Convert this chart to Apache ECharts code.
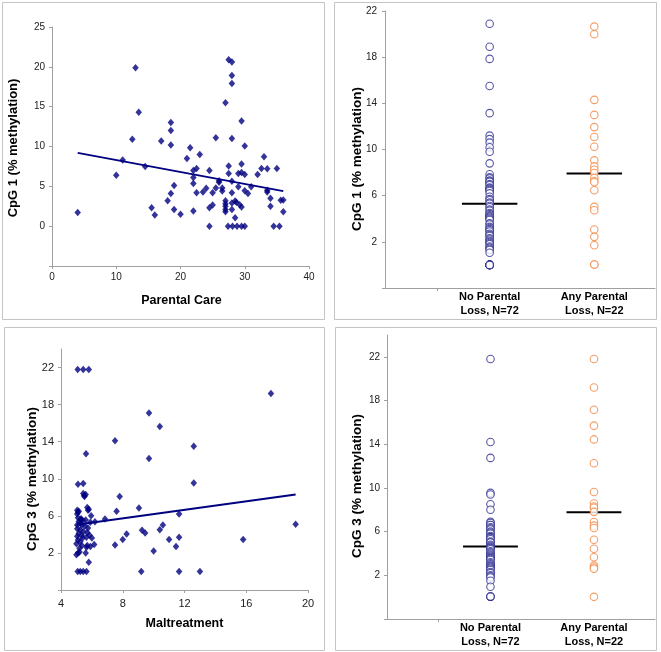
<!DOCTYPE html>
<html><head><meta charset="utf-8">
<script src="https://cdn.jsdelivr.net/npm/echarts@6/dist/echarts.min.js"></script>
<style>html,body{margin:0;padding:0;background:#fff}#c{width:661px;height:652px}</style>
</head><body><div id="c"></div>
<script>
// ---------- Panel 1: CpG 1 vs Parental Care ----------
const careX = [4,10,11,12.5,13,13.5,14.5,15.5,16,17,18,18.5,18.5,18.5,18.5,19,19,20,21,21.5,22,22,22,22,22.5,22.5,23,23.5,24,24.5,24.5,24.5,25,25,25.5,25.5,26,26,26.5,26.5,27,27,27,27,27,27,27.5,27.5,27.5,27.4,28,28,28,28,28,28,28,28,28.1,28.5,28.5,28.7,29,29,29.2,28.8,29.5,29.5,29.5,29.5,29.5,30,30,30,30,30.5,31,32,32.6,33,33.5,33.5,33.5,34,34,34.5,35,35.4,35.6,36,36];
const careY = [1.7,6.4,8.3,10.9,19.9,14.3,7.5,2.3,1.4,10.7,3.2,13.0,12.0,10.2,4.1,5.1,2.1,1.5,8.5,9.85,7.0,6.1,5.35,1.9,7.25,4.2,9.0,4.3,4.75,7.0,2.3,0,2.65,4.2,4.8,11.1,5.7,5.5,4.8,4.4,15.5,3.2,2.8,2.5,2.1,1.8,7.55,6.6,20.9,0,20.6,18.9,17.9,11.0,5.65,4.2,2.9,2.1,0,3.15,1.05,3.0,4.95,6.6,2.7,0,7.8,13.2,6.75,2.4,0,6.5,10.05,4.45,0,4.1,4.95,6.5,7.25,8.7,7.2,4.5,4.3,3.5,2.5,0,7.25,0,3.25,3.3,1.8];
const careTrendX = [4, 36];
const careTrendY = [9.2, 4.4];

// ---------- Panel 2: CpG 1 by parental loss ----------
const lossLabels = ['No Parental\nLoss, N=72', 'Any Parental\nLoss, N=22'];
const lossPos = [2, 4];
const cpg1NoLoss = [20.9,18.9,17.85,15.5,13.15,11.2,10.9,10.6,10.2,9.8,8.8,7.85,7.6,7.5,7.3,7.2,7.2,7.0,6.9,6.7,6.6,6.6,6.5,6.4,6.2,5.9,5.7,5.6,5.4,5.3,5.1,5.0,4.8,4.7,4.5,4.4,4.3,4.2,4.2,4.1,4.0,3.9,3.6,3.5,3.3,3.2,3.1,3.0,2.9,2.7,2.6,2.5,2.3,2.2,2.1,2.0,1.9,1.8,1.6,1.5,1.4,1.3,1.05,0,0,0,0,0,0,0,0,0];
const cpg1AnyLoss = [20.65,19.98,14.3,13.0,11.94,11.08,10.24,9.06,8.54,8.25,7.96,7.53,7.25,7.16,6.47,5.03,4.74,3.07,2.43,1.71,0.04,0.04];
const cpg1Median = [5.31, 7.93];

// ---------- Panel 3: CpG 3 vs Maltreatment ----------
const maltX = [5.08,5.44,5.8,17.6,9.7,10.4,7.5,12.6,5.62,9.7,12.6,5.1,5.44,5.44,5.5,5.6,5.52,7.8,9.05,7.6,6.85,11.65,10.6,10.4,9.25,9.45,8.25,8.0,7.5,11.0,11.65,11.45,10.0,9.2,11.65,13.0,15.8,19.2,
 5.05,5.1,5.05,5.15,5.7,5.8,5.75,5.95,6.2,5.1,5.3,5.15,5.4,5.05,5.35,5.6,5.9,5.25,5.05,5.25,5.15,5.05,5.35,5.1,5.4,5.25,5.0,5.35,5.75,5.7,5.65,5.85,6.0,5.7,5.9,6.15,5.1,5.2,5.0,5.65,5.6,5.8,5.08,5.25,5.44,5.65,5.3,5.45,5.2,5.55];
const maltY = [21.8,21.8,21.8,19.2,17.1,15.65,14.1,13.5,12.7,12.2,9.55,9.4,9.5,8.4,8.2,8.3,8.1,8.1,6.85,6.5,5.65,6.2,5.0,4.5,4.45,4.15,4.05,3.45,2.85,3.45,3.7,2.7,2.2,0,0,0,3.45,5.1,
 6.6,6.4,6.2,6.5,6.9,6.7,6.6,6.0,5.35,5.8,5.6,5.4,5.5,5.0,5.0,5.55,5.3,5.2,4.6,4.5,4.1,3.8,3.9,3.4,3.6,3.2,3.0,2.8,4.7,4.2,3.7,3.9,3.6,2.8,2.7,2.9,2.0,2.1,1.8,2.6,2.0,1.0,0,0,0,0,5.7,4.3,2.5,4.9];
const maltTrendX = [5, 19.2];
const maltTrendY = [5.05, 8.3];

// ---------- Panel 4: CpG 3 by parental loss ----------
const cpg3NoLoss = [21.8,14.2,12.75,9.55,9.4,8.5,8.0,6.9,6.8,6.6,6.6,6.4,6.3,6.2,6.0,5.9,5.8,5.6,5.5,5.5,5.4,5.3,5.1,5.0,5.0,4.8,4.7,4.6,4.5,4.5,4.4,4.2,4.1,4.0,3.9,3.8,3.7,3.6,3.6,3.5,3.4,3.2,3.1,3.0,2.9,2.8,2.8,2.7,2.6,2.5,2.3,2.2,2.0,1.9,1.8,1.5,0.95,0.05,0.05,0.05];
const cpg3AnyLoss = [21.8,19.2,17.15,15.7,14.44,12.26,9.62,8.57,8.3,8.18,7.81,6.88,6.55,6.33,5.26,4.43,3.66,2.89,2.71,2.6,0.03];
const cpg3Median = [4.64, 7.77];

// ---------- tick values ----------
const careXTicks = [0,10,20,30,40];
const careYLabels = [0,5,10,15,20,25];
const cpgLossYLabels = [2,6,10,14,18,22];
const cpgYTicks = [-2,2,6,10,14,18,22];
const maltXTicks = [4,8,12,16,20];

// ---------- styling ----------
const FONT = "'Liberation Sans', Arial, sans-serif";
const NAVY = '#000080';
const BLUE = '#2a2a90';
const ORANGE = '#f0843f';
const AXIS = '#a0a0a0';
const LBL = '#222';
const halfW = 0.53;

function axisBase(gi, min, max, fontSize, margin) {
  return {
    type: 'value', gridIndex: gi, min: min, max: max,
    axisLine: {show: true, onZero: false, lineStyle: {color: AXIS, width: 1}},
    axisTick: {show: true, inside: false, length: 3, lineStyle: {color: AXIS}},
    splitLine: {show: false},
    axisLabel: {color: LBL, fontSize: fontSize, fontFamily: FONT, margin: margin}
  };
}

const grids = [
  {left: 52, top: 27, width: 257, height: 239},
  {left: 385, top: 11, width: 270, height: 277},
  {left: 61, top: 349, width: 247, height: 241},
  {left: 387, top: 335, width: 268, height: 284}
];

const xAxes = [];
const yAxes = [];
// panel 1
let a = axisBase(0, 0, 40, 10, 6); a.interval = 10; xAxes.push(a);
a = axisBase(0, -5, 25, 10, 7); a.interval = 5; a.axisLabel.customValues = careYLabels; yAxes.push(a);
// panel 2
a = axisBase(1, 0, 5.16, 11, 2); a.axisTick.customValues = [1];
a.axisLabel = {customValues: lossPos, color: '#000', fontSize: 11, fontWeight: 'bold', fontFamily: FONT, lineHeight: 14.3, margin: 2,
  formatter: v => lossLabels[lossPos.indexOf(v)] || ''};
xAxes.push(a);
a = axisBase(1, -2, 22, 10, 8); a.interval = 4; a.axisLabel.customValues = cpgLossYLabels; yAxes.push(a);
// panel 3
a = axisBase(2, 4, 20, 11, 8); a.interval = 4; a.axisLabel.customValues = maltXTicks; xAxes.push(a);
a = axisBase(2, -2, 24, 11, 7); a.interval = 4; a.axisTick.customValues = cpgYTicks; a.axisLabel.customValues = cpgLossYLabels; yAxes.push(a);
// panel 4
a = axisBase(3, 0, 5.18, 11, 2); a.axisTick.customValues = [1];
a.axisLabel = {customValues: lossPos, color: '#000', fontSize: 11, fontWeight: 'bold', fontFamily: FONT, lineHeight: 14, margin: 2,
  formatter: v => lossLabels[lossPos.indexOf(v)] || ''};
xAxes.push(a);
a = axisBase(3, -2, 24, 10, 7); a.interval = 4; a.axisTick.customValues = cpgYTicks; a.axisLabel.customValues = cpgLossYLabels; yAxes.push(a);

function zip(xs, ys) { return xs.map((x, i) => [x, ys[i]]); }
function column(pos, vals) { return vals.map(v => [pos, v]); }
function medianSeg(pos, m) { return [[pos - halfW, m], [pos + halfW, m]]; }

const series = [];
// panel 1
series.push({type: 'scatter', xAxisIndex: 0, yAxisIndex: 0, data: zip(careX, careY), symbol: 'diamond', symbolSize: [6.5, 7.5],
  itemStyle: {color: NAVY}, silent: true, z: 2});
series.push({type: 'line', xAxisIndex: 0, yAxisIndex: 0, data: zip(careTrendX, careTrendY), showSymbol: false,
  lineStyle: {color: NAVY, width: 2}, silent: true, z: 3});
// panel 2
[cpg1NoLoss, cpg1AnyLoss].forEach((vals, i) => {
  series.push({type: 'line', xAxisIndex: 1, yAxisIndex: 1, data: medianSeg(lossPos[i], cpg1Median[i]), showSymbol: false,
    lineStyle: {color: '#000', width: 2}, silent: true, z: 2});
  series.push({type: 'scatter', xAxisIndex: 1, yAxisIndex: 1, data: column(lossPos[i], vals), symbol: 'circle', symbolSize: 7.5,
    itemStyle: {color: '#fff', borderColor: i === 0 ? BLUE : ORANGE, borderWidth: 1.1}, silent: true, z: 3});
});
// panel 3
series.push({type: 'scatter', xAxisIndex: 2, yAxisIndex: 2, data: zip(maltX, maltY), symbol: 'diamond', symbolSize: [6.5, 7.5],
  itemStyle: {color: NAVY}, silent: true, z: 2});
series.push({type: 'line', xAxisIndex: 2, yAxisIndex: 2, data: zip(maltTrendX, maltTrendY), showSymbol: false,
  lineStyle: {color: NAVY, width: 2}, silent: true, z: 3});
// panel 4
[cpg3NoLoss, cpg3AnyLoss].forEach((vals, i) => {
  series.push({type: 'line', xAxisIndex: 3, yAxisIndex: 3, data: medianSeg(lossPos[i], cpg3Median[i]), showSymbol: false,
    lineStyle: {color: '#000', width: 2}, silent: true, z: 2});
  series.push({type: 'scatter', xAxisIndex: 3, yAxisIndex: 3, data: column(lossPos[i], vals), symbol: 'circle', symbolSize: 7.5,
    itemStyle: {color: '#fff', borderColor: i === 0 ? BLUE : ORANGE, borderWidth: 1.1}, silent: true, z: 3});
});

function box(x, y, w, h) {
  return {type: 'rect', shape: {x: x + 0.5, y: y + 0.5, width: w, height: h}, style: {fill: null, stroke: '#c4c4c4', lineWidth: 1}, silent: true, z: -1};
}
function title(text, x, y, rot, size) {
  return {type: 'text', x: x, y: y, rotation: rot ? Math.PI / 2 : 0, silent: true,
    style: {text: text, fill: '#000', font: 'bold ' + size + 'px ' + FONT, align: 'center', verticalAlign: 'middle', textAlign: 'center', textVerticalAlign: 'middle'}};
}

const graphic = [
  box(2, 2, 322, 317), box(334, 2, 322, 317), box(4, 327, 320, 323), box(335, 327, 321, 323),
  title('CpG 1 (% methylation)', 13.5, 148, true, 13),
  title('Parental Care', 181.5, 301, false, 12.5),
  title('CpG 1 (% methylation)', 357, 159, true, 13.5),
  title('CpG 3 (% methylation)', 32, 479, true, 13.5),
  title('Maltreatment', 184.5, 624, false, 12.5),
  title('CpG 3 (% methylation)', 357, 486, true, 13.5)
];

const chart = echarts.init(document.getElementById('c'), null, {renderer: 'canvas'});
chart.setOption({
  animation: false, backgroundColor: '#fff',
  grid: grids, xAxis: xAxes, yAxis: yAxes, series: series, graphic: graphic
});
</script></body></html>
